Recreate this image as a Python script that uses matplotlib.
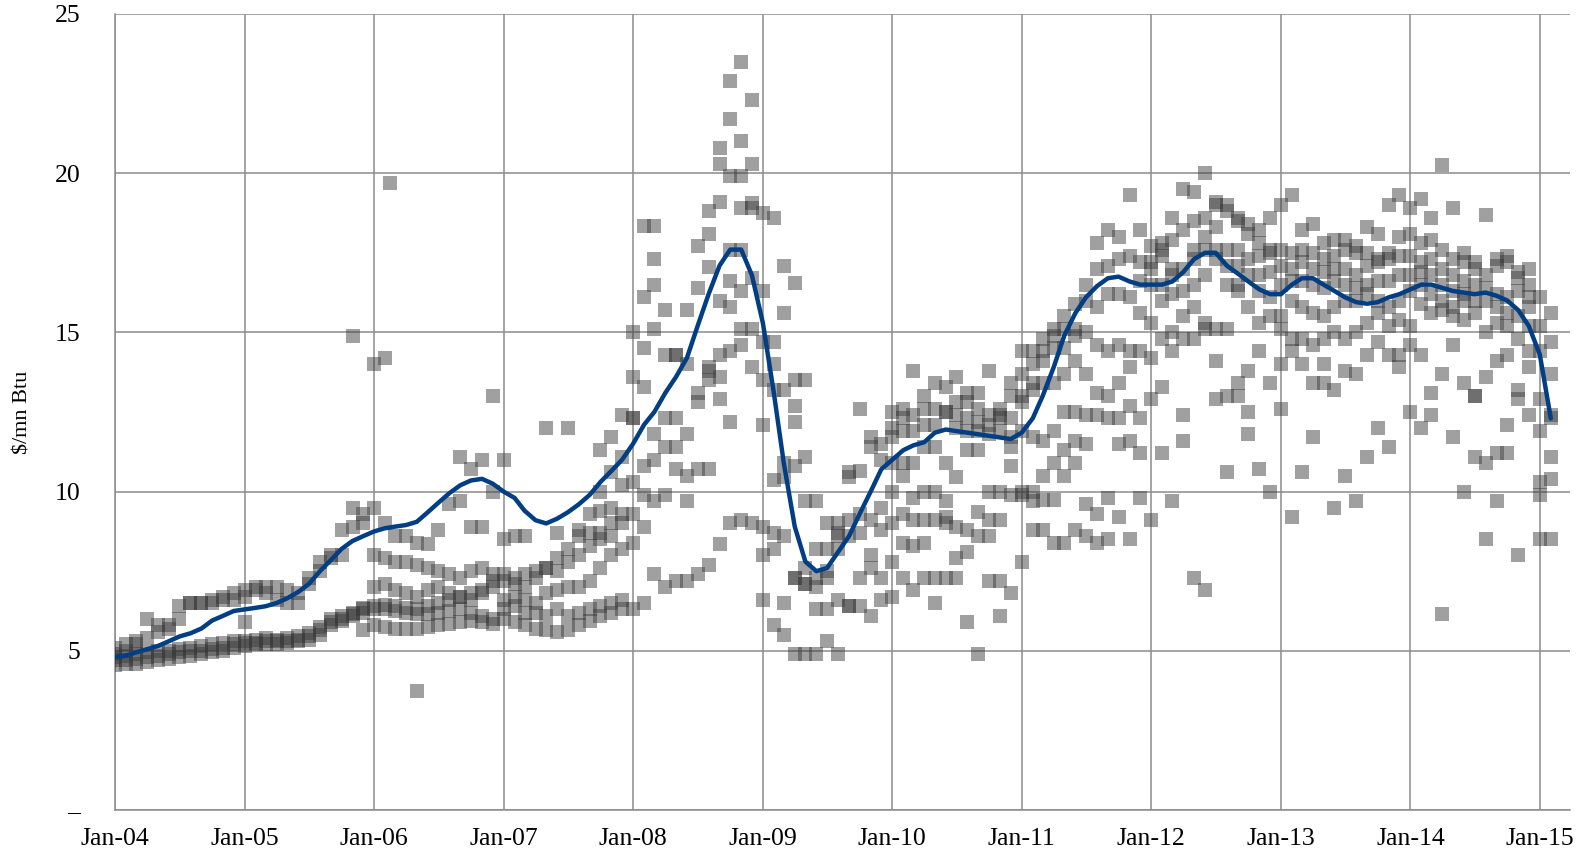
import matplotlib
matplotlib.use('Agg')
import matplotlib.pyplot as plt
import matplotlib.dates as mdates
from matplotlib.ticker import FuncFormatter
import numpy as np
import pandas as pd

N = None

# bulan: Jan-04 .. Feb-15
bulan = pd.date_range('2004-01-01', periods=134, freq='MS')

# harga per seri ($/mn Btu), satu baris per tahun
seri1 = [4.55, 4.6, 4.6, 4.65, 4.7, 4.75, 4.8, 4.85, 4.9, 4.95, 5.0, 5.1,
         5.15, 5.2, 5.2, 5.2, 5.25, 5.3, 5.35, 5.5, 5.8, 5.95, 6.1, 6.2,
         6.3, 6.3, 6.25, 6.2, 6.15, 6.15, 6.2, 6.25, 6.3, 6.2, 6.1, 6.0,
         6.0, 5.9, 5.8, 5.7, 5.65, 5.6, 5.65, 5.8, 5.95, 6.1, 6.2, 6.3,
         6.3, 6.5, 7.4, 7.0, 7.2, 7.2, 7.4, 7.7, 8.35, 9.0, 9.1, 9.0,
         6.6, 5.8, 5.5, 4.9, 4.9, 4.9, 5.3, 4.9, 6.4, 6.4, 6.1, 6.6,
         6.7, 7.3, 6.9, 7.3, 6.5, 7.3, 7.3, 5.9, 4.9, 7.2, 6.1, 6.8,
         7.8, 8.8, 8.8, 8.4, 8.4, 8.8, 8.6, 8.4, 8.5, 9.2, 8.5, 9.8,
         9.1, 11.2, 9.7, 11.6, 7.3, 6.9, 12.9, 10.6, 13.0, 11.8, 10.7, 10.0,
         12.6, 9.2, 10.6, 11.7, 13.4, 9.5, 10.5, 9.7, 11.1, 12.0, 11.4, 13.9,
         12.5, 12.0, 13.1, 6.15, 11.7, 10.0, 11.1, 8.5, 9.7, 11.2, 8.0, 13.9,
         8.5, 8.5]

seri2 = [4.7, 4.7, 4.75, 4.8, 4.85, 4.9, 4.95, 5.0, 5.0, 5.05, 5.1, 5.2,
         5.25, 5.25, 5.3, 5.3, 5.3, 5.35, 5.45, 5.65, 5.9, 6.0, 6.15, 6.3,
         6.4, 6.45, 6.4, 6.35, 6.3, 6.4, 6.5, 6.6, 6.7, 6.8, 6.9, 7.0,
         7.2, 7.3, 7.4, 7.5, 7.6, 7.9, 8.2, 8.6, 8.7, 8.7, 9.0, 9.3,
         8.4, 8.9, 9.7, 9.9, 10.7, 9.7, 10.7, 10.7, 12.9, 12.2, 14.6, 13.9,
         8.0, 8.2, 6.5, 7.3, 7.1, 6.3, 6.3, 6.6, 6.4, 7.3, 7.6, 7.3,
         7.8, 8.4, 8.3, 8.4, 7.3, 9.0, 7.9, 8.1, 8.6, 8.6, 7.2, 9.9,
         9.9, 9.7, 9.75, 9.75, 10.5, 10.9, 9.6, 9.3, 9.8, 11.5, 11.6, 11.2,
         12.9, 13.3, 14.4, 12.4, 14.8, 15.3, 14.1, 13.0, 13.4, 12.5, 14.4, 13.4,
         14.0, 14.4, 14.0, 13.4, 14.0, 13.2, 13.8, 13.7, 14.3, 14.7, 14.3, 14.3,
         14.6, 14.3, 12.4, 13.7, 14.6, 13.4, 13.0, 10.9, 11.2, 12.1, 12.9, 12.4,
         9.9, 10.4]

seri3 = [4.8, 4.85, 4.9, 4.95, 5.0, 5.0, 5.05, 5.1, 5.15, 5.2, 5.25, 5.3,
         5.3, 5.35, 5.4, 5.35, 5.4, 5.45, 5.55, 5.75, 6.0, 6.1, 6.2, 6.35,
         5.8, 5.75, 5.7, 5.7, 5.7, 5.75, 5.8, 5.85, 5.9, 5.95, 5.9, 5.85,
         6.3, 6.4, 6.2, 6.2, 6.1, 6.3, 6.1, 6.2, 6.3, 6.4, 6.5, 6.6,
         9.3, 10.8, 11.0, 11.4, 11.4, 10.5, 12.8, 13.5, 13.6, 14.4, 15.1, 15.1,
         8.9, 8.7, 8.6, 7.3, 7.1, 7.3, 7.5, 8.2, 8.6, 8.7, 8.0, 8.8,
         9.0, 9.3, 9.1, 9.1, 9.1, 9.2, 8.9, 8.8, 9.35, 9.1, 10.0, 10.8,
         10.0, 10.0, 10.5, 10.9, 11.3, 11.6, 11.5, 12.4, 12.3, 12.3, 12.7, 12.3,
         14.2, 14.8, 15.0, 14.8, 15.8, 15.1, 15.1, 15.1, 16.3, 13.8, 15.3, 15.5,
         15.1, 14.8, 14.8, 14.6, 14.8, 15.0, 14.8, 15.0, 15.3, 15.6, 15.2, 15.4,
         15.2, 15.9, 15.6, 15.7, 15.5, 15.4, 13.0, 13.6, 14.1, 14.3, 13.2, 14.4,
         10.3, 11.1]

seri4 = [5.1, 5.2, 5.3, 6.0, 5.8, 5.8, 6.4, 6.5, 6.5, 6.5, 6.6, 6.6,
         6.7, 6.9, 7.0, 7.0, 6.9, 6.8, 7.1, 7.5, 7.9, 8.0, 8.9, 9.3,
         9.5, 9.0, 8.6, 8.6, 8.4, 8.35, 8.8, 9.6, 9.7, 8.9, 8.9, 10.0,
         8.5, 8.6, 8.6, N, N, 8.7, N, 8.8, 9.3, 9.4, 9.5, 10.2,
         10.3, 9.9, 11.8, 12.3, 12.3, 11.8, 13.1, 13.8, 14.3, 15.8, 16.3, 16.7,
         12.1, 10.35, 10.45, 10.8, 7.6, 7.0, 7.3, 8.6, 9.1, 9.3, 9.1, 9.5,
         10.0, 10.5, 9.8, 10.0, 10.0, 9.7, 10.45, 11.3, 11.3, 10.0, 9.1, 11.4,
         11.9, 11.7, 11.6, 11.9, 12.5, 12.5, 12.4, 13.1, 13.0, 13.4, 13.9, 14.4,
         15.3, 16.0, 16.2, 15.5, 16.5, 16.8, 17.3, 16.5, 16.5, 15.8, 16.3, 16.1,
         15.5, 16.0, 15.8, 15.6, 15.5, 15.8, 16.0, 16.0, 16.2, 16.0, 15.8, 16.0,
         16.3, 16.5, 16.2, 16.0, 15.8, 16.0, 15.6, 15.0, 15.3, 15.2, 14.8, 15.2,
         11.9, 12.4]

seri5 = [4.9, 5.0, 5.2, 5.4, 5.6, 5.7, 6.0, 6.5, 6.5, 6.6, 6.7, 6.8,
         6.9, 7.0, 6.8, 6.6, 6.5, 6.5, 7.3, 7.8, 8.0, 8.8, 9.5, 9.0,
         8.0, 7.9, 7.8, 7.8, 7.7, 7.6, 7.5, 7.4, 7.3, 7.5, 7.6, 7.4,
         7.4, 7.1, 7.0, 7.3, 7.6, 7.5, 7.8, 8.0, 8.3, 8.5, 8.6, 9.0,
         12.3, 13.3, 15.1, 14.3, 14.3, 14.0, 16.4, 13.9, 16.0, 16.6, 17.6, 19.05,
         13.5, 13.2, 10.9, 12.2, 11.1, 9.7, 9.0, 9.0, 10.45, 10.65, 11.4, 11.0,
         10.9, 10.9, 10.9, 11.4, 11.4, 10.9, 12.0, 11.9, 11.9, 11.8, 11.9, 11.7,
         13.0, 13.4, 13.4, 13.4, 13.7, 14.1, 13.7, 14.6, 14.4, 14.6, 14.4, 15.6,
         16.5, 16.5, 16.8, 16.3, 17.3, 17.6, 17.6, 17.1, 17.1, 16.8, 16.8, 16.9,
         16.5, 16.6, 16.6, 16.5, 16.4, 16.6, 16.5, 16.4, 16.5, 16.6, 16.6, 16.8,
         16.8, 16.9, 16.8, 16.5, 16.3, 16.2, 16.0, 16.0, 15.8, 15.6, 15.5, 15.8,
         12.9, 13.7]

seri6 = [N, N, N, N, N, N, N, N, N, N, N, N,
         5.9, N, N, N, N, N, N, N, N, N, N, 5.65,
         7.0, 7.1, 6.9, 6.8, 6.7, 6.9, 7.0, 6.8, 6.7, 6.6, 6.8, 7.2,
         6.6, 6.7, 6.6, 6.5, 6.8, 6.9, 7.0, 7.0, 7.2, 7.6, 8.0, 8.2,
         13.6, 14.5, 16.5, 15.7, 14.3, 15.7, 17.7, 17.05, 19.1, 19.9, 19.9, 20.3,
         14.7, 14.0, 13.2, 12.7, 13.5, 8.2, 8.2, 8.7, 10.6, 12.6, 11.7, 11.5,
         11.7, 11.9, 11.9, 12.1, 12.1, 12.5, 12.4, 12.3, 12.2, 12.1, 12.3, 12.3,
         13.7, 14.0, 14.1, 14.5, 14.5, 15.1, 15.0, 15.8, 16.2, 16.2, 16.1, 16.6,
         17.2, 17.4, 17.0, 17.0, 17.6, 18.0, 18.3, 17.6, 17.6, 17.3, 17.4, 17.5,
         17.1, 17.0, 17.2, 17.0, 16.9, 17.0, 17.0, 16.8, 17.1, 17.2, 17.3, 17.4,
         17.4, 17.2, 17.3, 17.0, 16.8, 16.6, 16.5, 16.4, 16.2, 16.1, 16.3, 16.1,
         14.4, 12.3]

seri7 = [N, N, N, N, N, N, N, N, N, N, N, N,
         N, N, N, N, N, N, N, N, N, N, N, N,
         N, N, N, N, N, N, N, N, 11.1, 10.7, 11.0, N,
         11.0, N, N, N, N, N, N, N, N, 11.3, 11.7, 12.4,
         15.0, 16.1, 17.3, N, N, N, N, 18.1, 20.3, 21.7, 21.0, 22.3,
         16.3, 14.7, 15.6, 13.5, 9.7, N, N, N, N, N, N, N,
         12.5, 12.3, 12.4, 12.6, 12.6, 12.5, 12.8, 12.8, 12.6, 12.4, 12.4, 13.0,
         12.8, 13.2, 14.4, 15.1, 15.1, 14.9, 16.0, 17.0, 17.1, 17.3, 17.4, 17.2,
         17.7, 17.8, 17.9, 18.2, 18.5, 18.6, 19.0, 18.8, 18.5, 18.1, 17.8, 17.6,
         17.6, 17.5, 17.6, 17.5, 17.3, 17.4, 17.6, 17.5, 17.5, 18.1, 17.5, 18.0,
         18.1, 17.8, 17.9, 17.6, 17.3, 17.2, 17.0, 16.8, 17.1, 17.4, 16.9, 16.5,
         15.2, 14.7]

seri8 = [N, N, N, N, N, N, N, N, N, N, N, N,
         N, N, N, N, N, N, N, N, N, N, N, N,
         N, N, N, N, N, N, N, N, N, N, N, N,
         N, N, N, N, N, N, N, N, N, 10.0, 10.6, 11.1,
         12.3, 18.35, 18.35, N, N, N, N, 18.8, 20.8, 22.9, 23.5, 18.9,
         18.75, 18.6, 17.1, 16.55, N, N, N, N, N, N, N, N,
         12.0, 12.6, 13.8, 13.0, 13.4, 13.3, 13.6, 13.1, 13.1, 13.8, 12.6, 13.4,
         14.4, 14.4, 14.8, 14.9, 15.5, 15.9, 16.5, 17.8, 18.2, 18.0, 19.3, 18.2,
         17.0, 17.6, 18.6, 19.5, 19.4, 20.0, 19.1, 19.0, 18.6, 18.4, 18.2, 18.6,
         19.0, 19.3, 18.2, 18.4, 17.8, 17.9, 17.9, 17.7, 18.3, 17.3, 19.0, 19.3,
         18.9, 19.2, 18.6, 20.25, 18.9, 17.5, 17.2, 18.7, 17.3, 17.2, 16.7, 17.0,
         16.1, 15.6]

# titik lepas
lepas_tgl = ['2005-11-01', '2006-01-01', '2006-02-01', '2006-02-15', '2006-05-01',
             '2006-12-01', '2007-05-01', '2007-07-01', '2008-10-01', '2008-11-01']
lepas_val = [14.9, 14.0, 14.2, 19.7, 3.74, 13.0, 12.0, 12.0, 17.6, 18.9]

# rata-rata (garis biru)
rata2 = [4.8, 4.85, 4.95, 5.05, 5.15, 5.3, 5.45, 5.55, 5.7, 5.95, 6.1, 6.25,
         6.3, 6.35, 6.4, 6.5, 6.65, 6.85, 7.1, 7.5, 7.85, 8.2, 8.45, 8.6,
         8.75, 8.85, 8.9, 8.95, 9.05, 9.35, 9.65, 9.95, 10.2, 10.35, 10.4, 10.25,
         10.0, 9.8, 9.4, 9.1, 9.0, 9.15, 9.35, 9.6, 9.9, 10.3, 10.65, 11.0,
         11.5, 12.1, 12.5, 13.1, 13.6, 14.2, 15.2, 16.2, 17.1, 17.6, 17.6, 16.8,
         15.3, 13.1, 10.9, 8.9, 7.8, 7.5, 7.6, 8.1, 8.6, 9.3, 10.0, 10.7,
         11.0, 11.3, 11.45, 11.55, 11.85, 11.95, 11.9, 11.85, 11.8, 11.75, 11.7, 11.65,
         11.85, 12.3, 13.0, 13.9, 14.9, 15.6, 16.1, 16.45, 16.7, 16.75, 16.6, 16.5,
         16.5, 16.5, 16.6, 16.9, 17.3, 17.5, 17.5, 17.1, 16.85, 16.6, 16.35, 16.2,
         16.2, 16.5, 16.7, 16.7, 16.5, 16.3, 16.1, 15.95, 15.9, 15.95, 16.1, 16.2,
         16.35, 16.5, 16.5, 16.4, 16.3, 16.25, 16.2, 16.25, 16.15, 16.0, 15.7, 15.2,
         14.3, 12.3]

semua_seri = [seri1, seri2, seri3, seri4, seri5, seri6, seri7, seri8]

plt.rcParams['font.family'] = ['Liberation Serif', 'DejaVu Serif']

fig = plt.figure(figsize=(15.9, 8.52), dpi=100)
ax = fig.add_axes([0.0723, 0.0493, 0.9151, 0.9343])

abu = '#8c8c8c'
for s in semua_seri:
    y = np.array(s, dtype=float)
    ax.scatter(bulan, y, marker='s', s=105, color='#3a3a3a', alpha=0.48,
               linewidths=0, zorder=3)
ax.scatter(pd.to_datetime(lepas_tgl), lepas_val, marker='s', s=105,
           color='#3a3a3a', alpha=0.48, linewidths=0, zorder=3)

ax.plot(bulan, rata2, color='#023e84', lw=3.2, zorder=4,
        solid_joinstyle='round', solid_capstyle='round')

x0 = mdates.date2num(pd.Timestamp('2004-01-01'))
x1 = mdates.date2num(pd.Timestamp('2015-01-01')) + 85
ax.set_xlim(x0, x1)
ax.set_ylim(0, 25)
ax.set_yticks([0, 5, 10, 15, 20, 25])
ax.yaxis.set_major_formatter(FuncFormatter(lambda v, p: '\u2013' if v == 0 else '%d' % v))
ax.xaxis.set_major_locator(mdates.YearLocator())
ax.xaxis.set_major_formatter(mdates.DateFormatter('%b-%y'))

ax.grid(True, color=abu, lw=1.1)
ax.set_axisbelow(True)
for sisi in ['top', 'right']:
    ax.spines[sisi].set_visible(False)
for sisi in ['left', 'bottom']:
    ax.spines[sisi].set_color(abu)
    ax.spines[sisi].set_linewidth(1.1)

ax.tick_params(axis='both', length=0, labelsize=18.5, colors='black')
ax.tick_params(axis='y', pad=25)
ax.tick_params(axis='x', pad=13)

ax.set_ylabel('$/mn Btu', fontsize=16)
ax.yaxis.set_label_coords(-0.057, 0.5)

fig.savefig('out.png', dpi=100)
